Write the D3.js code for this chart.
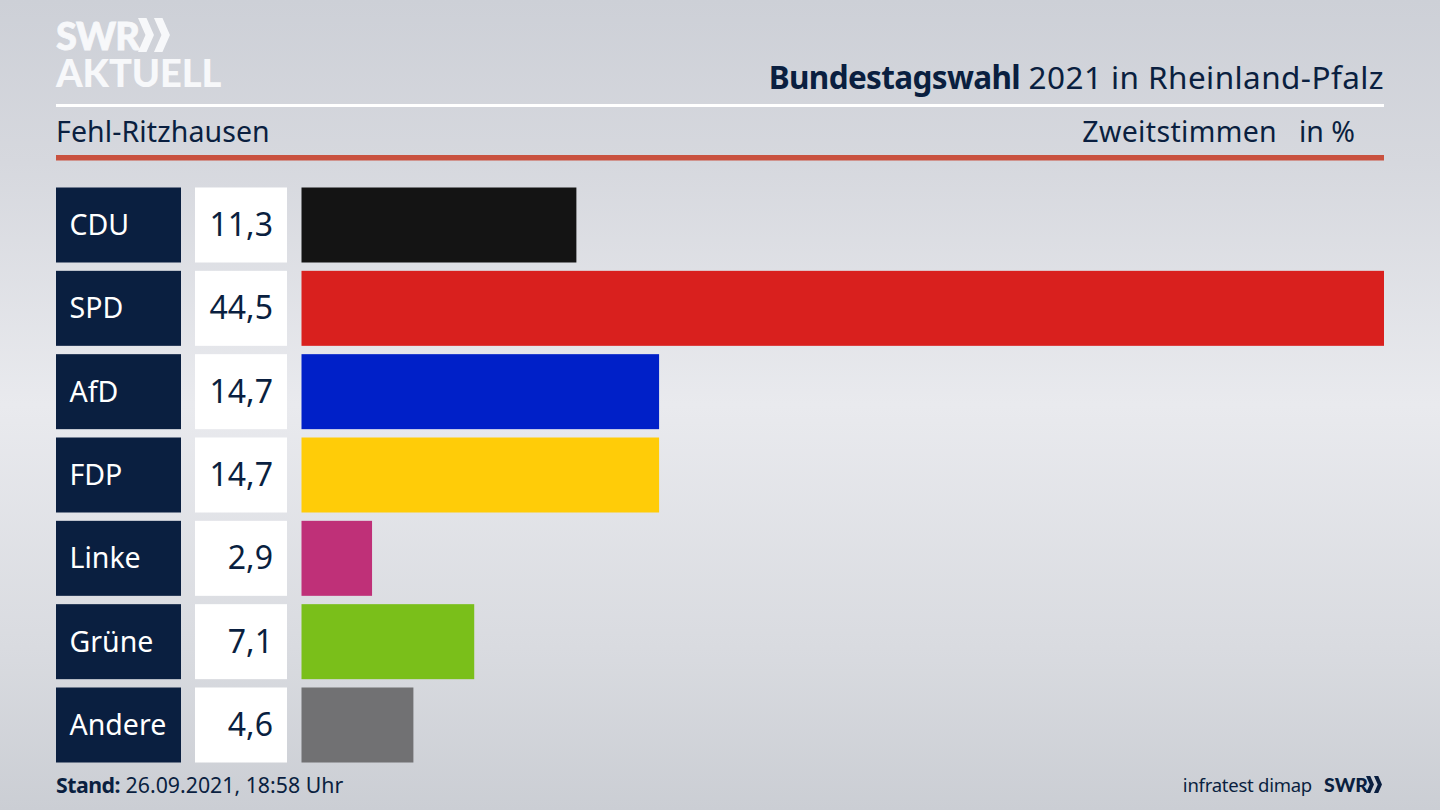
<!DOCTYPE html>
<html>
<head>
<meta charset="utf-8">
<script src="https://cdn.jsdelivr.net/npm/d3@7"></script>
<style>
  html, body { margin: 0; padding: 0; background: #dcdee3; }
  svg { display: block; }
  text { font-family: "Noto Sans", sans-serif; fill: #0a1f40; }
</style>
</head>
<body>
<svg id="chart" width="1440" height="810"></svg>
<script>
// Zweitstimmen data
const parties = ['CDU', 'SPD', 'AfD', 'FDP', 'Linke', 'Grüne', 'Andere'];
const shares = [11.3, 44.5, 14.7, 14.7, 2.9, 7.1, 4.6];
const partyColors = ['#141414', '#d9201e', '#0020c8', '#ffcc08', '#bf3078', '#7abf1a', '#717173'];

const navy = '#0a1f40';
const fmt = (v) => v.toFixed(1).replace('.', ',');

const svg = d3.select('#chart');

// Background
const defs = svg.append('defs');
const grad = defs.append('linearGradient').attr('id', 'bg').attr('x1', 0).attr('y1', 0).attr('x2', 0).attr('y2', 1);
[[0, '#cdd0d7'], [0.2, '#d6d8de'], [0.5, '#e9eaee'], [0.8, '#d9dbe0'], [1, '#cbced4']].forEach(([o, c]) => {
  grad.append('stop').attr('offset', o).attr('stop-color', c);
});
svg.append('rect').attr('width', 1440).attr('height', 810).attr('fill', 'url(#bg)');

// Scales
const y = d3.scaleBand().domain(parties).range([187.5, 762.5]).paddingInner(0.1);
const x = d3.scaleLinear().domain([0, 44.5]).range([301.5, 1384]);
const color = d3.scaleOrdinal().domain(parties).range(partyColors);
const rows = parties.map((p, i) => ({ party: p, share: shares[i] }));

// Logo
function chevrons(g, h) {
  const tip = h * 0.47, thick = h * 0.25, gap = h * 0.47;
  [0, 1].forEach(i => {
    const o = i * gap;
    g.append('path')
      .attr('d', `M${o},0 L${o + thick},0 L${o + tip},${h / 2} L${o + thick},${h} L${o},${h} L${o + tip - thick},${h / 2} Z`);
  });
}
svg.append('text').attr('x', 56).attr('y', 50).attr('font-size', 38).attr('font-weight', 900)
  .attr('letter-spacing', -0.8).style('font-family', 'Lato').style('fill', '#f7f8fa')
  .style('stroke', '#f7f8fa').style('stroke-width', 0.8).text('SWR');
chevrons(svg.append('g').attr('transform', 'translate(138,18)').attr('fill', '#f7f8fa'), 34);
svg.append('text').attr('x', 56).attr('y', 87).attr('font-size', 38).attr('font-weight', 900)
  .attr('letter-spacing', -0.1).style('font-family', 'Lato').style('fill', '#f7f8fa').text('AKTUELL');

// Header
const title = svg.append('text').attr('x', 1384).attr('y', 89).attr('text-anchor', 'end').attr('font-size', 31.5);
title.append('tspan').attr('font-weight', 700).attr('letter-spacing', -0.65).text('Bundestagswahl');
title.append('tspan').attr('letter-spacing', 0.42).text(' 2021 in Rheinland-Pfalz');
svg.append('rect').attr('x', 56).attr('y', 104).attr('width', 1328).attr('height', 3).attr('fill', '#fff');
svg.append('text').attr('x', 56).attr('y', 142).attr('font-size', 28.5).attr('letter-spacing', 0.1).text('Fehl-Ritzhausen');
svg.append('text').attr('x', 1277).attr('y', 142).attr('text-anchor', 'end').attr('font-size', 28.5).attr('letter-spacing', 0.33).text('Zweitstimmen');
svg.append('text').attr('x', 1355).attr('y', 142).attr('text-anchor', 'end').attr('font-size', 28.5).text('in %');
svg.append('rect').attr('x', 56).attr('y', 155).attr('width', 1328).attr('height', 5.5).attr('fill', '#c9513f');

// Rows
const row = svg.append('g').selectAll('g').data(rows).join('g')
  .attr('transform', d => `translate(0,${y(d.party)})`);
row.append('rect').attr('x', 56).attr('width', 125).attr('height', y.bandwidth()).attr('fill', navy);
row.append('text').attr('x', 69.5).attr('y', y.bandwidth() / 2 + 10).attr('font-size', 28.5)
  .style('fill', '#fff').text(d => d.party);
row.append('rect').attr('x', 195).attr('width', 92).attr('height', y.bandwidth()).attr('fill', '#fff');
row.append('text').attr('x', 273).attr('y', y.bandwidth() / 2 + 11).attr('text-anchor', 'end').attr('font-size', 32)
  .text(d => fmt(d.share));
row.append('rect').attr('x', x(0)).attr('width', d => x(d.share) - x(0)).attr('height', y.bandwidth())
  .attr('fill', d => color(d.party));

// Footer
const stand = svg.append('text').attr('x', 56).attr('y', 793).attr('font-size', 21.3);
stand.append('tspan').attr('font-weight', 700).attr('letter-spacing', -0.5).text('Stand:');
stand.append('tspan').text(' 26.09.2021, 18:58 Uhr');
svg.append('text').attr('x', 1312).attr('y', 792).attr('text-anchor', 'end').attr('font-size', 18.5).attr('letter-spacing', -0.25).text('infratest dimap');
svg.append('text').attr('x', 1324).attr('y', 792).attr('font-size', 19.5).attr('font-weight', 900)
  .style('font-family', 'Lato').text('SWR');
chevrons(svg.append('g').attr('transform', 'translate(1366,776)').attr('fill', navy), 17);
</script>
</body>
</html>
